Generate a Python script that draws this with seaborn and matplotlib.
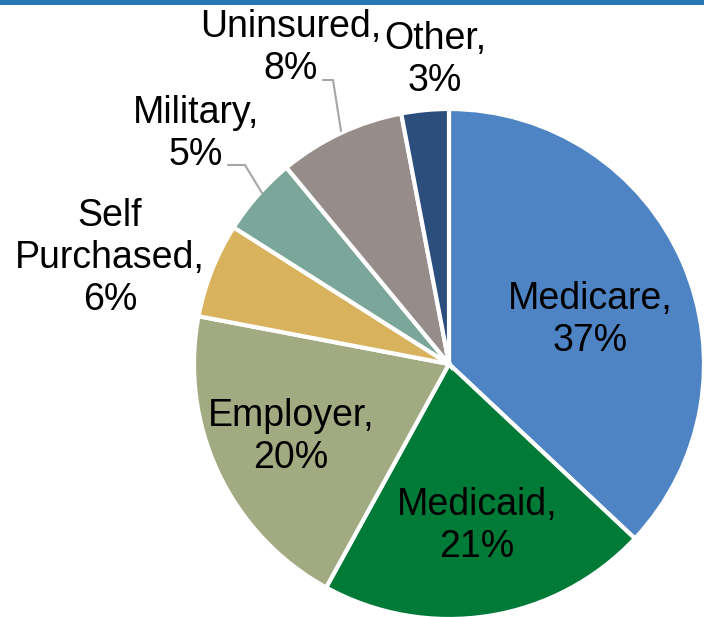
import matplotlib
matplotlib.use("Agg")
import matplotlib.pyplot as plt
from matplotlib.patches import Rectangle
import seaborn as sns

# Coverage share (%) by payer
categories = ['Medicare', 'Medicaid', 'Employer', 'Self\nPurchased', 'Military', 'Uninsured', 'Other']
shares = [37, 21, 20, 6, 5, 8, 3]
colors = ['#4F84C4', '#007A37', '#A2AA81', '#D8B25C', '#7AA79A', '#968C8A', '#2B4E7D']

sns.set_theme(style="white")
plt.rcParams['font.family'] = ['Liberation Sans', 'DejaVu Sans']

W, H = 704, 617
fig = plt.figure(figsize=(W / 100, H / 100), dpi=100)
ax = fig.add_axes([0, 0, 1, 1])

palette = sns.color_palette(colors)
ax.pie(shares, colors=palette, startangle=90, counterclock=False,
       center=(449, H - 364), radius=255,
       wedgeprops={'edgecolor': 'white', 'linewidth': 3})
ax.set_xlim(0, W)
ax.set_ylim(0, H)
ax.set_aspect('equal')
ax.axis('off')

# label positions in pixel coords (x, y from top)
label_pos = [(590, 320), (477, 526), (291, 437), (110, 258), (196, 134), (291, 48), (435, 60)]
for name, val, (x, y) in zip(categories, shares, label_pos):
    ax.text(x, H - y, f"{name},\n{val}%", ha='center', va='center',
            fontsize=27, color='black', linespacing=1.2)

# leader lines for the small outside labels
ax.plot([228, 245, 262], [H - 165, H - 165, H - 193], color='#A6A6A6', lw=1.5)
ax.plot([323, 333, 341], [H - 80, H - 80, H - 131], color='#A6A6A6', lw=1.5)

# blue rule along the top
fig.patches.append(Rectangle((0, 1 - 5 / H), 1, 5 / H, transform=fig.transFigure,
                             facecolor='#2878B5', edgecolor='none'))

fig.savefig('out.png', dpi=100)
